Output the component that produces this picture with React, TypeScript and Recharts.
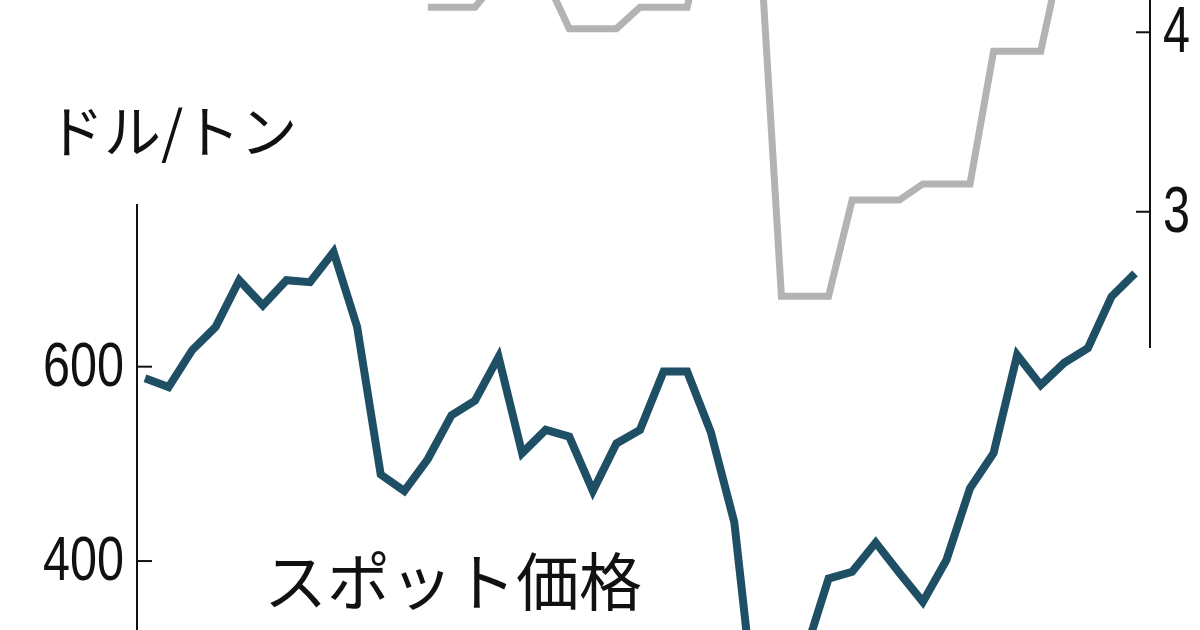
import React from 'react';
import { LineChart, Line, XAxis, YAxis } from 'recharts';

// 横軸の期間（目盛りは画面外のため番号のみ）
const periods = [
  1, 2, 3, 4, 5, 6, 7, 8, 9, 10,
  11, 12, 13, 14, 15, 16, 17, 18, 19, 20,
  21, 22, 23, 24, 25, 26, 27, 28, 29, 30,
  31, 32, 33, 34, 35, 36, 37, 38, 39, 40,
  41, 42, 43,
];

// スポット価格（ドル/トン、左軸）
const spotPrice = [
  588, 579, 617, 641, 689, 663, 689, 687, 718, 641,
  489, 472, 505, 550, 565, 610, 511, 535, 528, 472,
  521, 535, 595, 595, 533, 440, 222, 210, 305, 382,
  389, 419, 388, 358, 401, 475, 511, 612, 581, 604,
  619, 672, 696,
];

// 灰色の系列（右軸）
const rightSeries: (number | null)[] = [
  null, null, null, null, null, null, null, null, null, null,
  null, null, 4.14, 4.14, 4.14, 4.3, 4.3, 4.3, 4.02, 4.02,
  4.02, 4.14, 4.14, 4.14, 4.7, 4.7, 4.7, 2.53, 2.53, 2.53,
  3.065, 3.065, 3.065, 3.155, 3.155, 3.155, 3.894, 3.894, 3.894, 4.5,
  4.5, 4.5, 4.5,
];

const leftTicks = [400, 600];
const rightTicks = [3, 4];

const data = periods.map((p, i) => ({ period: p, spot: spotPrice[i], right: rightSeries[i] }));

const numFont = "'Liberation Sans', Arial, sans-serif";
const jpFont = "'Noto Sans CJK JP', 'Noto Sans', sans-serif";
const digitWidth = 27;

const LeftTick = (props: any) => {
  const { x, y, payload } = props;
  const label = String(payload.value);
  return (
    <g>
      <line x1={x} x2={x + 15} y1={y} y2={y} stroke="#111" strokeWidth={2} />
      <text
        x={x - 13}
        y={y + 19}
        textAnchor="end"
        fontSize={63}
        fontFamily={numFont}
        textLength={label.length * digitWidth}
        lengthAdjust="spacingAndGlyphs"
        fill="#111"
      >
        {label}
      </text>
    </g>
  );
};

const RightTick = (props: any) => {
  const { x, y, payload } = props;
  const label = String(payload.value);
  return (
    <g>
      <line x1={x - 14} x2={x} y1={y} y2={y} stroke="#111" strokeWidth={2} />
      <text
        x={x + 13}
        y={y + 20}
        textAnchor="start"
        fontSize={64}
        fontFamily={numFont}
        textLength={label.length * digitWidth}
        lengthAdjust="spacingAndGlyphs"
        fill="#111"
      >
        {label}
      </text>
    </g>
  );
};

export default function App() {
  return (
    <div style={{ position: 'absolute', left: 0, top: 0, width: 1200, height: 630, overflow: 'hidden', background: '#fff' }}>
      {/* 左軸：スポット価格 */}
      <div style={{ position: 'absolute', left: 0, top: 0 }}>
        <LineChart width={1200} height={804} data={data} margin={{ top: 204, right: 50, bottom: 0, left: 0 }}>
          <XAxis dataKey="period" hide padding={{ left: 8, right: 15 }} />
          <YAxis
            yAxisId="l"
            orientation="left"
            width={137}
            type="number"
            domain={[150, 767.4]}
            ticks={leftTicks}
            interval={0}
            tickSize={0}
            tickMargin={0}
            tickLine={false}
            axisLine={{ stroke: '#111', strokeWidth: 2 }}
            tick={LeftTick}
          />
          <Line
            yAxisId="l"
            dataKey="spot"
            type="linear"
            stroke="#1f4f65"
            strokeWidth={8}
            dot={false}
            isAnimationActive={false}
          />
        </LineChart>
      </div>
      {/* 右軸 */}
      <div style={{ position: 'absolute', left: 0, top: -200 }}>
        <LineChart width={1200} height={548} data={data} margin={{ top: 0, right: 0, bottom: 0, left: 137 }}>
          <XAxis dataKey="period" hide padding={{ left: 8, right: 15 }} />
          <YAxis
            yAxisId="r"
            orientation="right"
            width={50}
            type="number"
            domain={[2.241, 5.294]}
            ticks={rightTicks}
            interval={0}
            tickSize={0}
            tickMargin={0}
            tickLine={false}
            axisLine={{ stroke: '#111', strokeWidth: 2 }}
            tick={RightTick}
          />
          <Line
            yAxisId="r"
            dataKey="right"
            type="linear"
            stroke="#b3b3b3"
            strokeWidth={7}
            dot={false}
            connectNulls={false}
            isAnimationActive={false}
          />
        </LineChart>
      </div>
      <svg width={1200} height={630} style={{ position: 'absolute', left: 0, top: 0, pointerEvents: 'none' }}>
        <text x={47} y={153} fontSize={57} fontFamily={jpFont} fill="#111">ドル/トン</text>
        <text x={264} y={605} fontSize={63} fontFamily={jpFont} fill="#111">スポット価格</text>
      </svg>
    </div>
  );
}
